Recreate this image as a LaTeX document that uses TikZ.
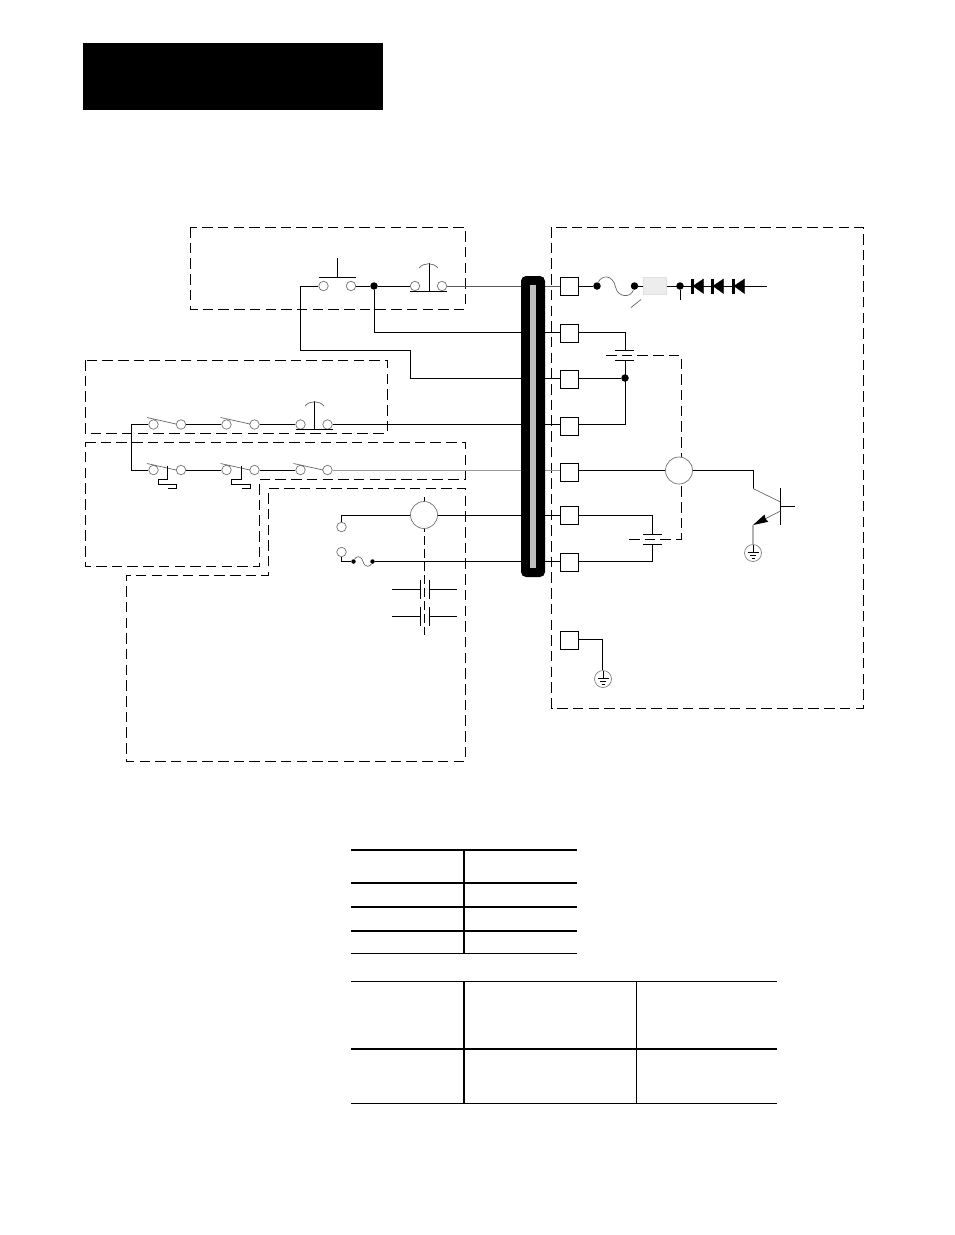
\documentclass[tikz,border=0pt]{standalone}
\usetikzlibrary{positioning, arrows.meta}
\tikzset{
    wire/.style={line width=0.9pt},
    thinwire/.style={line width=0.7pt,black!60},
    zonebox/.style={line width=0.9pt,dash pattern=on 10.5pt off 5.2pt},
    contact/.style={circle,draw=black!55,line width=0.7pt,fill=white,minimum size=9.5pt,inner sep=0pt},
    jdot/.style={circle,fill=black,minimum size=7.5pt,inner sep=0pt},
    smalldot/.style={circle,fill=black,minimum size=4.5pt,inner sep=0pt},
    termbox/.style={rectangle,draw,line width=0.9pt,fill=white,minimum size=18pt,inner sep=0pt},
    meter/.style={circle,draw=black!55,line width=0.7pt,fill=white,minimum size=27pt,inner sep=0pt},
    earth/.style={circle,draw=black!50,line width=0.7pt,fill=white,minimum size=17pt,inner sep=0pt},
    diode/.style={fill=black},
    heavyrule/.style={line width=2pt},
    lightrule/.style={line width=1pt}
}
\begin{document}
\begin{tikzpicture}[x=1pt,y=-1pt]
    \useasboundingbox (0,0) rectangle (954,1235);
    \node[fill=black,minimum width=300pt,minimum height=67pt,inner sep=0pt] (header) at (233,76.5){};
    % zones
    \draw[zonebox] (190.5,227) rectangle (465,309);
    \draw[zonebox] (85,360) rectangle (387,433);
    \draw[zonebox] (85,442.5)--(465.5,442.5)--(465.5,479)--(259.5,479)--(259.5,566.5)--(85,566.5)--cycle;
    \draw[zonebox] (268.5,488.5)--(465.5,488.5)--(465.5,761)--(126,761)--(126,575)--(268.5,575)--cycle;
    \draw[zonebox] (551.5,227)rectangle(863,708);
    % terminals
    \node[termbox] (T1) at (569,286){};
    \node[termbox] (T2) at (569,333){};
    \node[termbox] (T3) at (569,379){};
    \node[termbox] (T4) at (569,426){};
    \node[termbox] (T5) at (569,472){};
    \node[termbox] (T6) at (569,515){};
    \node[termbox] (T7) at (569,562){};
    \node[termbox] (T8) at (569,640){};
    % start button and stop button
    \node[contact] (startL) at (323.5,286){};
    \node[contact] (startR) at (351,286){};
    \node[contact] (stopL) at (415,286){};
    \node[contact] (stopR) at (442,286){};
    \node[jdot] (J1) at (374,286){};
    \coordinate (bendA) at (300.5,286);
    \coordinate (bendB) at (300.5,350);
    \coordinate (bendC) at (410.5,350);
    \coordinate (rowB) at (374,332.5);
    \coordinate (rowC) at (410.5,378.5);
    \draw[wire] (startL)--(bendA)--(bendB)--(bendC)--(rowC)--(rowC-|T3.west);
    \draw[wire] (startR)--(J1)--(stopL);
    \draw[wire] (J1)--(rowB)--(rowB-|T2.west);
    \draw[black!65,line width=0.9pt] (stopR)--(T1.west);
    \draw[wire] (318.5,277)--(356,277);
    \draw[wire] (337,277)--(337,258);
    \draw[wire] (410,291)--(447,291);
    \draw[wire] (429,291)--(429,263);
    \draw[thinwire] (419,268)to[bend left=50](438,268);
    % upper string of switches
    \node[contact] (swA) at (153.5,424.5){};
    \node[contact] (swB) at (181,424.5){};
    \node[contact] (swC) at (226.5,424.5){};
    \node[contact] (swD) at (254.5,424.5){};
    \node[contact] (swE) at (300.5,424.5){};
    \node[contact] (swF) at (327.5,424.5){};
    \coordinate (railTop) at (131,424.5);
    \coordinate (railBot) at (131,470);
    \draw[wire] (railBot)--(railTop)--(swA);
    \draw[wire] (swB)--(swC);
    \draw[wire] (swD)--(swE);
    \draw[wire] (swF)--(swF-|T4.west);
    \draw[thinwire] (147,417.5)--(176,424);
    \draw[thinwire] (220.5,417.5)--(250,424);
    \draw[wire] (295.5,429.5)--(332.5,429.5);
    \draw[wire] (314.5,429.5)--(314.5,401);
    \draw[thinwire] (305,406)to[bend left=50](324,406);
    % lower string of switches
    \node[contact] (swG) at (153.5,470){};
    \node[contact] (swH) at (181,470){};
    \node[contact] (swI) at (226.5,470){};
    \node[contact] (swJ) at (254.5,470){};
    \node[contact] (swK) at (300.5,470){};
    \node[contact] (swL) at (327.5,470){};
    \draw[wire] (railBot)--(swG);
    \draw[wire] (swH)--(swI);
    \draw[wire] (swJ)--(swK);
    \draw[black!40,line width=1pt] (swL)--(swL-|T5.west);
    \draw[thinwire] (147,463.5)--(176,470);
    \draw[thinwire] (220.5,463.5)--(250,470);
    \draw[thinwire] (293.5,463.5)--(323,470);
    \draw[wire] (167.5,465.5)--(167.5,479)--(158.5,479)--(158.5,484)--(176.5,484)--(176.5,488.5)--(167.5,488.5);
    \draw[wire] (241.5,465.5)--(241.5,479)--(231.5,479)--(231.5,484)--(250.5,484)--(250.5,488.5)--(241.5,488.5);
    % lower left motor
    \draw[dash pattern=on 9pt off 4pt,line width=0.9pt] (424.5,497)--(424.5,635);
    \node[meter] (M1) at (424,515){};
    \node[contact] (plugA) at (341.5,527){};
    \node[contact] (plugB) at (341.5,552){};
    \node[smalldot] (F1) at (353.5,561.5){};
    \node[smalldot] (F2) at (372.5,561.5){};
    \draw[wire] (plugA)|-(M1);
    \draw[wire] (M1)--(M1-|T6.west);
    \draw[wire] (plugB)|-(F1);
    \draw[wire] (F2)--(F2-|T7.west);
    \draw[thinwire] (F1).. controls (356,556) and (361,555) ..(363,561.5).. controls (365,568) and (370,567) ..(F2);
    \draw[wire] (392,589)--(420.5,589);
    \draw[wire] (429.5,589)--(456.5,589);
    \draw[wire] (420.5,579.5)--(420.5,598.5);
    \draw[wire] (429.5,579.5)--(429.5,598.5);
    \draw[wire] (392,616.5)--(420.5,616.5);
    \draw[wire] (429.5,616.5)--(456.5,616.5);
    \draw[wire] (420.5,606.5)--(420.5,626);
    \draw[wire] (429.5,606.5)--(429.5,626);
    % bar over the wires
    \node[fill=black,rounded corners=5pt,minimum width=24pt,minimum height=301pt,inner sep=0pt] (busbar) at (533,426.5){};
    \node[fill=black!25,minimum width=6.5pt,minimum height=283pt,inner sep=0pt] (busgrey) at (533,426.5){};
    % top line on the right
    \node[jdot] (J2) at (597,286){};
    \node[jdot] (J3) at (634.5,286){};
    \node[rectangle,draw=black!12,line width=1pt,fill=black!7,minimum width=23pt,minimum height=17pt,inner sep=0pt] (block) at (654.5,286){};
    \node[jdot] (J4) at (680,286){};
    \coordinate (stub) at (680,300);
    \coordinate (lineEnd) at (767,286);
    \draw[wire] (T1.east)--(J2);
    \draw[wire] (J3)--(block);
    \draw[wire] (block)--(lineEnd);
    \draw[wire] (J4)--(stub);
    \draw[thinwire] (J2).. controls (601,275) and (613,274) ..(615.5,287).. controls (618,298) and (631,298) ..(J3);
    \draw[thinwire] (631,307.5)--(641,299.5);
    \draw[diode] (693,286)--(703.5,279)--(703.5,293.5)--cycle;
    \draw[diode] (691,279) rectangle (693.5,293.5);
    \draw[diode] (713,286)--(723.5,279)--(723.5,293.5)--cycle;
    \draw[diode] (711,279) rectangle (713.5,293.5);
    \draw[diode] (734,286)--(744.5,279)--(744.5,293.5)--cycle;
    \draw[diode] (732,279) rectangle (734.5,293.5);
    % upper condenser
    \draw[zonebox] (606,355)--(681,355)--(681,457);
    \draw[zonebox] (629,539)--(681,539)--(681,484);
    \node[jdot] (J5) at (625,378){};
    \coordinate (capAtop) at (625.5,350);
    \coordinate (capAbot) at (625.5,360);
    \coordinate (rowD) at (625.5,424.5);
    \draw[wire] (T2.east|-rowB)-|(capAtop);
    \draw[wire] (T3.east|-J5)--(J5);
    \draw[wire] (T4.east|-rowD)--(rowD)--(capAbot);
    \draw[wire] (615,350)--(634,350);
    \draw[wire] (615,360)--(634,360);
    % lower condenser
    \coordinate (capBtop) at (652.5,534);
    \coordinate (capBbot) at (652.5,544);
    \draw[wire] (T6.east|-M1)-|(capBtop);
    \draw[wire] (T7.east|-F2)-|(capBbot);
    \draw[wire] (643,534)--(662,534);
    \draw[wire] (643,544)--(662,544);
    % coil and transistor
    \node[meter] (M2) at (679,470.5){};
    \coordinate (bendD) at (753,470.5);
    \coordinate (collector) at (753,488.5);
    \coordinate (emitter) at (753,525);
    \draw[wire] (T5.east|-M2)--(M2);
    \draw[wire] (M2)--(bendD)--(collector);
    \draw[thinwire] (collector)--(780.5,502);
    \draw[wire] (780.5,488)--(780.5,525);
    \draw[wire] (780.5,506)--(795,506);
    \draw[-{Stealth[length=15pt,width=8pt,inset=1pt,fill=black,color=black]},thinwire] (780.5,511)--(emitter);
    \node[earth] (G1) at (753,553){};
    \draw[black!30,line width=1.1pt] (emitter)--(G1);
    \draw[wire] (753,545)--(753,552);
    \draw[wire] (747.5,552)--(758.5,552);
    \draw[wire] (750,555)--(756,555);
    \draw[wire] (751.5,558)--(754.5,558);
    % lower earth
    \node[earth] (G2) at (603,679){};
    \coordinate (bendE) at (602.5,639.5);
    \draw[wire] (T8.east|-bendE)--(bendE)--(bendE|-G2.north);
    \draw[wire] (603,671)--(603,678);
    \draw[wire] (597.5,678)--(608.5,678);
    \draw[wire] (600,681)--(606,681);
    \draw[wire] (601.5,684)--(604.5,684);
    % tables
    \draw[heavyrule] (351,850)--(577,850);
    \draw[heavyrule] (351,883)--(577,883);
    \draw[heavyrule] (351,907)--(577,907);
    \draw[heavyrule] (351,931)--(577,931);
    \draw[lightrule] (351,953.5)--(577,953.5);
    \draw[heavyrule] (464,850)--(464,953.5);
    \draw[lightrule] (351,981.5)--(777,981.5);
    \draw[heavyrule] (351,1049)--(777,1049);
    \draw[lightrule] (351,1103.5)--(777,1103.5);
    \draw[heavyrule] (464,981.5)--(464,1103.5);
    \draw[lightrule] (636.5,981.5)--(636.5,1103.5);
\end{tikzpicture}
\end{document}
